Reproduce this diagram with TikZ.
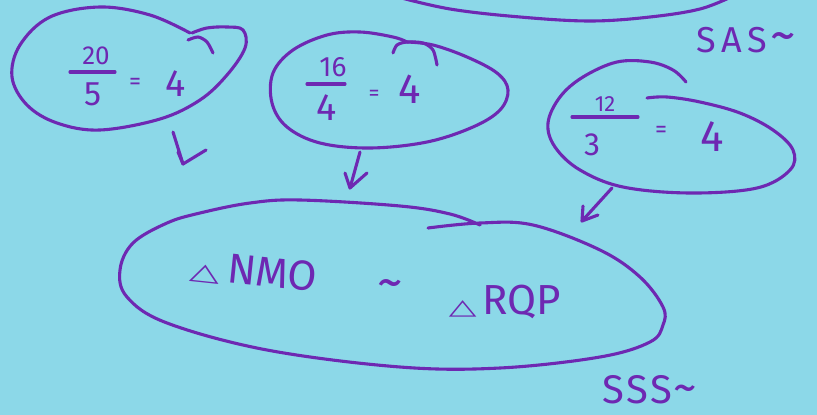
\documentclass[tikz,border=0pt]{standalone}
\usepackage{fontspec}
\setmainfont{Fira Sans}
\newfontfamily\symfont{DejaVu Sans}
\definecolor{bg}{RGB}{140,216,232}
\definecolor{ink}{RGB}{110,40,178}
\newcommand{\bigtri}[1]{{\symfont\bfseries\fontsize{#1}{#1}\selectfont\scalebox{1.5}[0.9]{△}}}
\newcommand{\bigtilde}[1]{{\fontsize{#1}{#1}\selectfont\textasciitilde}}
\begin{document}
\begin{tikzpicture}[x=1pt,y=-1pt,
  pen/.style={draw=ink, line width=3.1pt, line cap=round, line join=round},
  hw/.style={text=ink, inner sep=0pt, font=\fontsize{#1}{#1}\selectfont}
]
\fill[bg] (0,0) rectangle (817,415);
\useasboundingbox (0,0) rectangle (817,415);
\clip (0,0) rectangle (817,415);

% top partial ellipse
\draw[pen] plot[smooth, tension=0.6] coordinates {(394,-4) (450,9) (520,17) (590,21) (650,17) (700,9) (733,-4)};
\node[hw=36] (sas) at (746,40) {S\hspace{6pt}A\hspace{5pt}S\hspace{3pt}\bigtilde{52}};

% ellipse 1
\draw[pen] plot[smooth, tension=0.6] coordinates {(190,33) (150,15) (100,7) (50,17) (20,45) (12,77) (27,105) (57,123) (100,130) (160,119) (200,100) (227,75) (245,48) (243,30) (227,27) (207,28) (192,33)};
\draw[pen] plot[smooth] coordinates {(188,40) (198,37) (207,42) (213,53)};
\node[hw=26] (n20) at (96,56) {20};
\draw[pen] (70,72) -- (115,72);
\node[hw=34] (d5) at (93,94) {5};
\node[hw=24] (eq1) at (135,84) {=};
\node[hw=38] (r1) at (176,84) {4};

% ellipse 2
\draw[pen] plot[smooth, tension=0.6] coordinates {(407,42) (433,45) (467,57) (497,73) (508,90) (500,110) (473,127) (427,142) (370,148) (320,143) (287,127) (272,103) (273,73) (293,50) (327,35) (360,32) (393,37) (407,42)};
\draw[pen] plot[smooth] coordinates {(393,53) (397,45) (407,42) (423,43) (433,50) (437,65)};
\node[hw=28] (n16) at (333,67) {16};
\draw[pen] (307,84) -- (345,84);
\node[hw=38] (d4) at (327,108) {4};
\node[hw=22] (eq2) at (374,95) {=};
\node[hw=42] (r2) at (410,89) {4};

% ellipse 3
\draw[pen] plot[smooth, tension=0.6] coordinates {(686,82) (673,70) (650,62) (617,62) (583,77) (560,97) (548,123) (555,147) (580,170) (623,187) (690,193) (757,188) (790,170) (793,150) (773,130) (740,113) (700,102) (667,97) (647,98)};
\node[hw=22] (n12) at (605,104) {12};
\draw[pen] (572,117) -- (638,117);
\node[hw=32] (d3) at (592,145) {3};
\node[hw=24] (eq3) at (661,132) {=};
\node[hw=44] (r3) at (712,137) {4};

% big ellipse
\draw[pen] plot[smooth, tension=0.6] coordinates {(428,228) (480,223) (533,225) (600,250) (640,277) (663,307) (663,325) (650,342) (600,357) (500,368) (400,367) (267,350) (167,323) (127,297) (120,270) (133,243) (167,223) (200,213) (250,203) (300,200) (400,206) (450,214) (480,225)};
\node[hw=42, rotate=-6] (nmo) at (254,272) {\bigtri{26}\hspace{7pt}NMO};
\node[hw=30] (sim) at (390,290) {\bigtilde{52}};
\node[hw=42] (rqp) at (505,302) {\bigtri{24}\hspace{6pt}RQP};
\node[hw=40] (sss) at (650,390) {S\hspace{2pt}S\hspace{2pt}S\hspace{2pt}\bigtilde{48}};

% arrows
\coordinate (a1s) at (173,132); \coordinate (a1t) at (183,164);
\coordinate (a1r) at (206,150); \coordinate (a1l) at (178,152);
\draw[pen] (a1s) -- (a1t) -- (a1r);
\draw[pen] (a1l) -- (a1t);
\coordinate (a2s) at (360,152); \coordinate (a2t) at (350,188);
\coordinate (a2l) at (345,173); \coordinate (a2r) at (367,173);
\draw[pen] (a2s) -- (a2t);
\draw[pen] (a2l) -- (a2t) -- (a2r);
\coordinate (a3s) at (612,188); \coordinate (a3t) at (582,221);
\coordinate (a3l) at (583,206); \coordinate (a3r) at (598,215);
\draw[pen] (a3s) -- (a3t);
\draw[pen] (a3l) -- (a3t) -- (a3r);
\end{tikzpicture}
\end{document}
